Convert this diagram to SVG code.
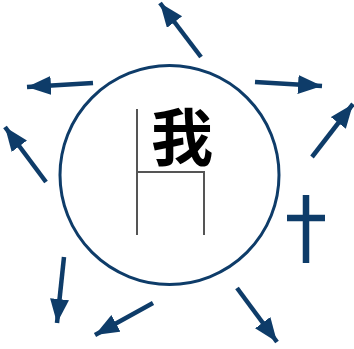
<svg xmlns="http://www.w3.org/2000/svg" width="354" height="349" viewBox="0 0 354 349">
<style>
.arr{stroke:#0e3c69;stroke-width:4.5;fill:none;marker-end:url(#ah)}
.ln{stroke:#555;stroke-width:2;fill:none}
</style>
<defs>
<marker id="ah" markerUnits="userSpaceOnUse" markerWidth="26" markerHeight="20" refX="24" refY="9.5" orient="auto">
<path d="M0,0 L24,9.5 L0,19 Z" fill="#0e3c69"/>
</marker>
</defs>
<rect width="354" height="349" fill="#fff"/>
<g id="circle">
<circle cx="169.5" cy="175" r="109.5" fill="none" stroke="#0e3c69" stroke-width="3"/>
</g>
<g id="self">
<path class="ln" d="M137,109 V235 M137,172 H204 V235"/>
<text x="182" y="161" font-family="'Noto Sans CJK SC', sans-serif" font-weight="bold" font-size="62" text-anchor="middle" fill="#000">我</text>
</g>
<g id="cross">
<path d="M306,195 V263 M287,218 H325" stroke="#0e3c69" stroke-width="6.5" fill="none"/>
</g>
<g id="connectors">
<line class="arr" x1="201" y1="57" x2="160" y2="3"/>
<line class="arr" x1="93" y1="83" x2="27" y2="87"/>
<line class="arr" x1="255" y1="82" x2="322" y2="86"/>
<line class="arr" x1="312" y1="157" x2="353" y2="104"/>
<line class="arr" x1="46" y1="182" x2="5" y2="127"/>
<line class="arr" x1="64" y1="257" x2="57" y2="323"/>
<line class="arr" x1="153" y1="303" x2="95" y2="335"/>
<line class="arr" x1="237" y1="288" x2="277" y2="342"/>
</g>
</svg>
